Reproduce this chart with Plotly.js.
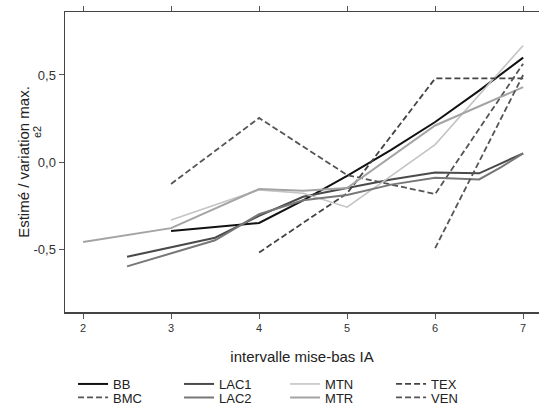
<!DOCTYPE html>
<html>
<head>
<meta charset="utf-8">
<script src="https://cdn.plot.ly/plotly-3.0.1.min.js"></script>
<style>
html,body{margin:0;padding:0;background:#fff;overflow:hidden;width:539px;height:405px;}
#chart{width:539px;height:420px;}
</style>
</head>
<body>
<div id="chart"></div>
<script>
// Data
const xBB = [3, 4, 4.5, 5, 5.5, 6, 6.5, 7];
const yBB = [-0.397, -0.35, -0.22, -0.08, 0.07, 0.23, 0.41, 0.60];

const xBMC = [3, 4, 5, 6, 7];
const yBMC = [-0.126, 0.253, -0.075, -0.184, 0.565];

const xLAC1 = [2.5, 3.5, 4, 4.5, 5, 5.5, 6, 6.5, 7];
const yLAC1 = [-0.545, -0.435, -0.31, -0.20, -0.15, -0.10, -0.06, -0.065, 0.05];

const xLAC2 = [2.5, 3.5, 4, 4.5, 5, 5.5, 6, 6.5, 6.75, 7];
const yLAC2 = [-0.60, -0.45, -0.30, -0.22, -0.19, -0.13, -0.09, -0.10, -0.03, 0.05];

const xMTN = [3, 4, 4.5, 5, 6, 7];
const yMTN = [-0.333, -0.16, -0.18, -0.26, 0.10, 0.67];

const xMTR = [2, 3, 4, 4.5, 5, 6, 7];
const yMTR = [-0.46, -0.38, -0.155, -0.165, -0.15, 0.21, 0.43];

const xTEX = [4, 5, 6, 7];
const yTEX = [-0.52, -0.18, 0.48, 0.48];

const xVEN = [6, 7];
const yVEN = [-0.495, 0.50];

const xTickVals = [2, 3, 4, 5, 6, 7];
const yTickVals = [-0.5, 0, 0.5];
const yTickText = ['-0,5', '0,0', '0,5'];

const FONT = 'Liberation Sans, Arial, Helvetica, sans-serif';
const DASH = '6px,3px';

function tr(name, x, y, color, width, dash, leg) {
  return {
    type: 'scatter', mode: 'lines', name: name, x: x, y: y,
    line: {color: color, width: width, dash: dash || 'solid'},
    legend: leg, hoverinfo: 'skip'
  };
}

// legend rows: BB LAC1 MTN TEX / BMC LAC2 MTR VEN
const traces = [
  tr('BB', xBB, yBB, '#111111', 2, null, 'legend'),
  tr('LAC1', xLAC1, yLAC1, '#4a4a4a', 2, null, 'legend'),
  tr('MTN', xMTN, yMTN, '#c4c4c4', 1.6, null, 'legend'),
  tr('TEX', xTEX, yTEX, '#444444', 1.8, DASH, 'legend'),
  tr('BMC', xBMC, yBMC, '#555555', 1.8, DASH, 'legend2'),
  tr('LAC2', xLAC2, yLAC2, '#777777', 2, null, 'legend2'),
  tr('MTR', xMTR, yMTR, '#a4a4a4', 2, null, 'legend2'),
  tr('VEN', xVEN, yVEN, '#555555', 1.8, DASH, 'legend2')
];

function legendBox(y) {
  return {
    orientation: 'h', x: 0.017, xanchor: 'left', y: y, yanchor: 'top',
    font: {family: FONT, size: 13, color: '#222'},
    entrywidth: 61, entrywidthmode: 'pixels',
    itemclick: false, itemdoubleclick: false,
    bgcolor: 'rgba(0,0,0,0)'
  };
}

const layout = {
  width: 539, height: 420,
  margin: {l: 65, r: 0, t: 12, b: 108, autoexpand: false},
  paper_bgcolor: '#ffffff', plot_bgcolor: '#ffffff',
  font: {family: FONT, color: '#222'},
  showlegend: true,
  legend: legendBox(-0.19),
  legend2: legendBox(-0.235),
  xaxis: {
    range: [1.795, 7.18],
    tickvals: xTickVals,
    ticktext: xTickVals.map(String),
    ticks: 'outside', ticklen: 5, tickcolor: '#555', tickwidth: 1,
    showline: true, linecolor: '#444', linewidth: 1.5,
    mirror: 'ticks',
    showgrid: false, zeroline: false,
    tickfont: {family: FONT, size: 11, color: '#333'},
    title: {text: 'intervalle mise-bas IA', font: {family: FONT, size: 15, color: '#222'}, standoff: 19}
  },
  yaxis: {
    range: [-0.862, 0.862],
    tickvals: yTickVals,
    ticktext: yTickText,
    ticks: 'outside', ticklen: 5, tickcolor: '#555', tickwidth: 1,
    showline: true, linecolor: '#444', linewidth: 1.5,
    mirror: false,
    showgrid: false, zeroline: false,
    tickfont: {family: FONT, size: 13, color: '#333'},
    title: {text: 'Estimé / variation max.', font: {family: FONT, size: 15, color: '#222'}, standoff: 0}
  },
  annotations: [{
    text: 'e2', xref: 'paper', yref: 'paper', x: -0.059, y: 0.6,
    xanchor: 'center', yanchor: 'middle', textangle: -90, showarrow: false,
    font: {family: FONT, size: 11, color: '#222'}
  }]
};

Plotly.newPlot('chart', traces, layout, {staticPlot: true, displayModeBar: false});
</script>
</body>
</html>
